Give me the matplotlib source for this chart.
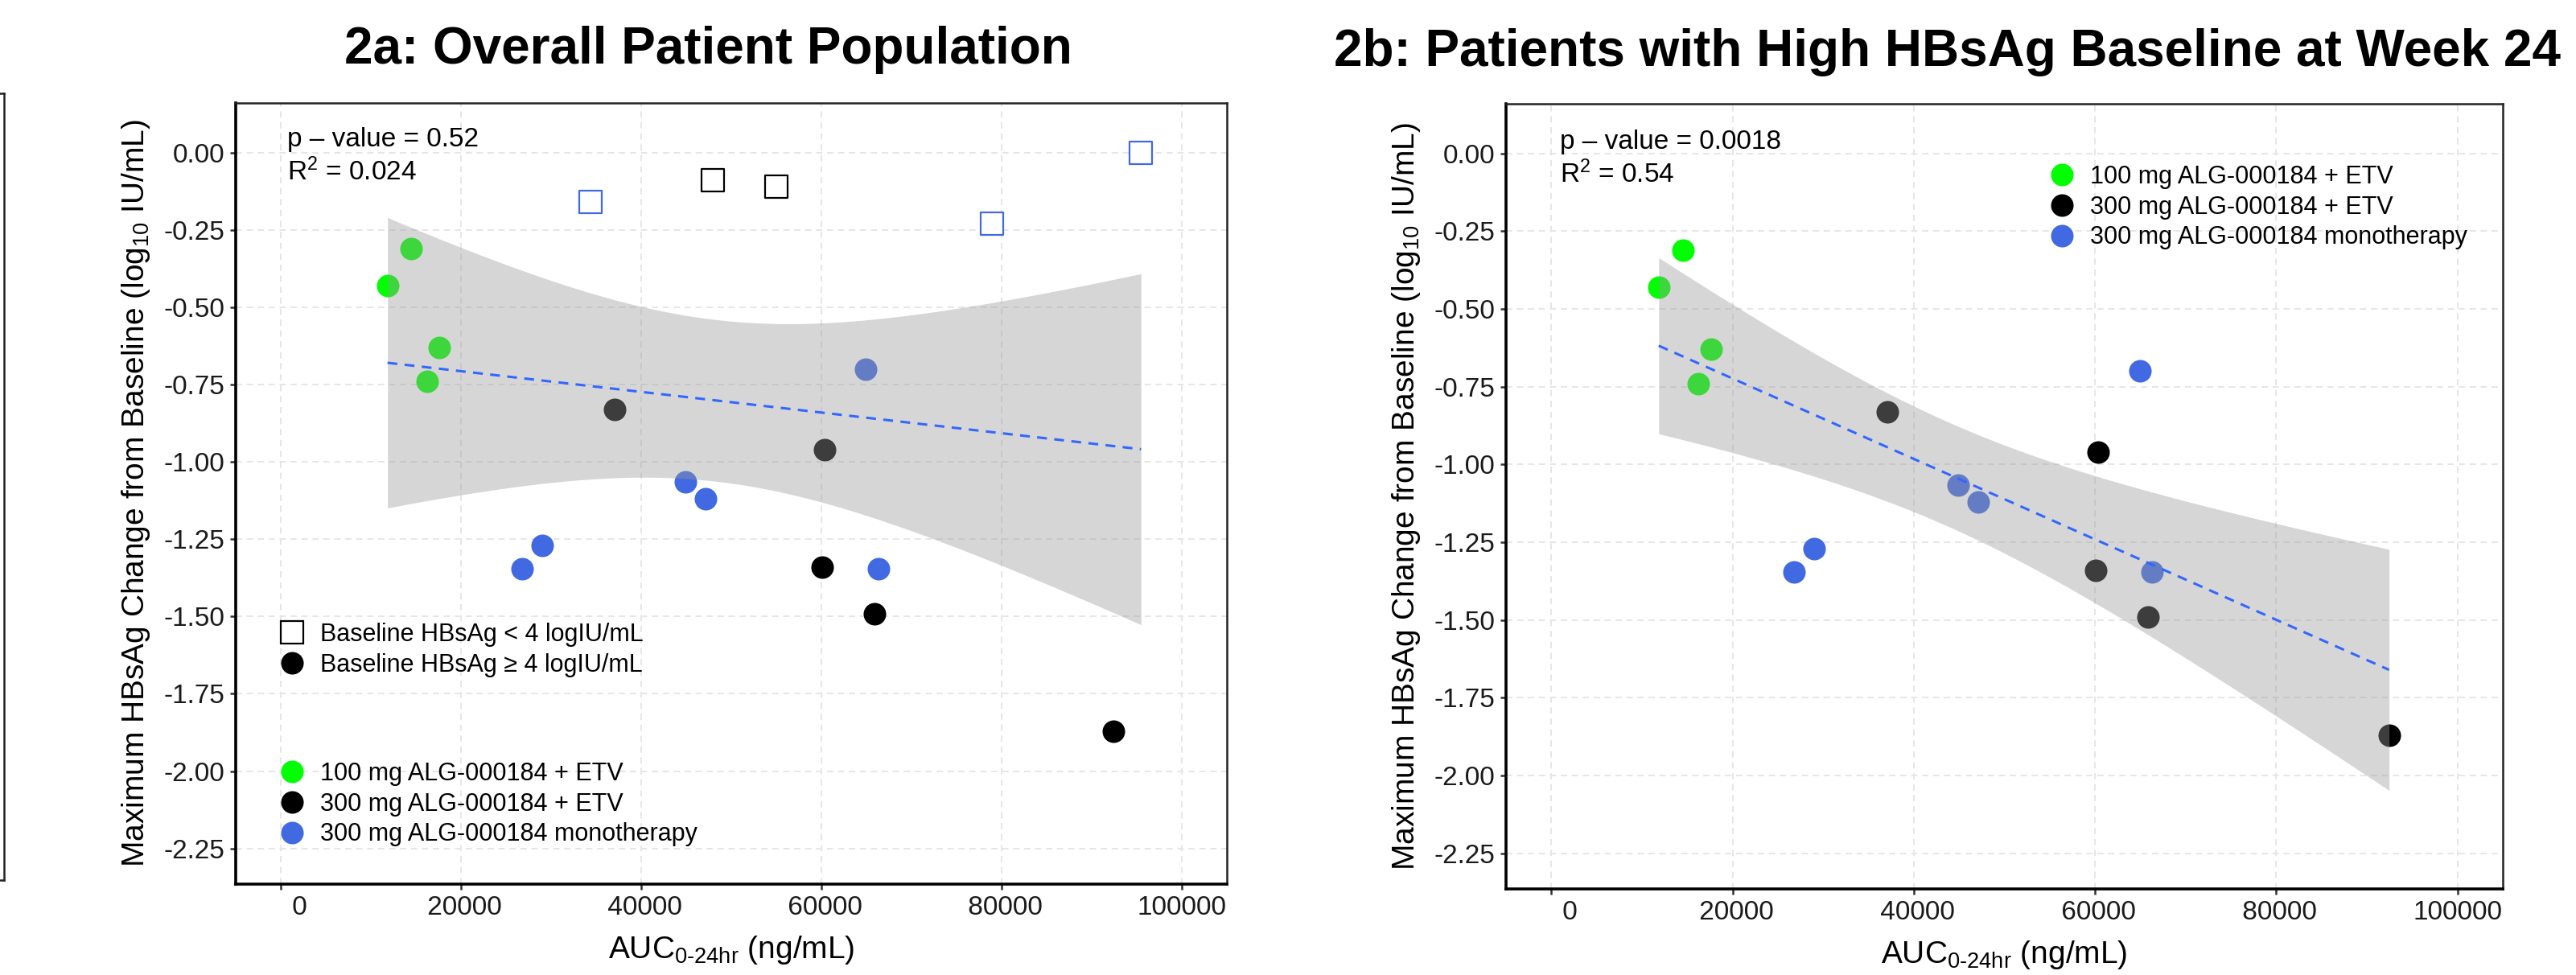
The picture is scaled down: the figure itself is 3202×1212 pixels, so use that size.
import numpy as np
import matplotlib
matplotlib.use("Agg")
import matplotlib.pyplot as plt
from matplotlib.lines import Line2D

plt.rcParams["font.family"] = ["Liberation Sans", "DejaVu Sans"]
plt.rcParams["mathtext.fontset"] = "custom"
plt.rcParams["mathtext.rm"] = "Liberation Sans"
plt.rcParams["mathtext.it"] = "Liberation Sans:italic"
plt.rcParams["mathtext.bf"] = "Liberation Sans:bold"

# --- Data ---
# Baseline HBsAg >= 4 logIU/mL (filled circles), per treatment arm
GREEN_AUC = [11850, 14500, 17600, 16250]
GREEN_CHG = [-0.43, -0.31, -0.63, -0.74]
BLACK_AUC = [37050, 60350, 60100, 65850, 92450]
BLACK_CHG = [-0.83, -0.96, -1.34, -1.49, -1.87]
BLUE_AUC = [64950, 44900, 47150, 29000, 26800, 66330]
BLUE_CHG = [-0.70, -1.065, -1.12, -1.27, -1.345, -1.345]
# Baseline HBsAg < 4 logIU/mL (open squares), only shown in 2a
LOW_BLACK_AUC = [47950, 55000]
LOW_BLACK_CHG = [-0.09, -0.11]
LOW_BLUE_AUC = [34375, 78900, 95470]
LOW_BLUE_CHG = [-0.16, -0.23, 0.00]

ARM_COLORS = ["#00FF00", "#000000", "#4169E1"]
ARM_LABELS = ["100 mg ALG-000184 + ETV", "300 mg ALG-000184 + ETV",
              "300 mg ALG-000184 monotherapy"]
BASE_LABELS = ["Baseline HBsAg < 4 logIU/mL", "Baseline HBsAg \u2265 4 logIU/mL"]
STATS_A = ["p \u2013 value = 0.52", "R$^2$ = 0.024"]
STATS_B = ["p \u2013 value = 0.0018", "R$^2$ = 0.54"]
TITLES = ["2a: Overall Patient Population",
          "2b: Patients with High HBsAg Baseline at Week 24"]
X_TICKS = [0, 20000, 40000, 60000, 80000, 100000]
Y_TICKS = [0.00, -0.25, -0.50, -0.75, -1.00, -1.25, -1.50, -1.75, -2.00, -2.25]
XLABEL = r"AUC$_{\mathregular{0\text{-}24hr}}$ (ng/mL)"
YLABEL = r"Maximum HBsAg Change from Baseline (log$_{10}$ IU/mL)"
T_CRIT = {18: 2.100922, 13: 2.160369}  # 97.5% t quantiles

W, H = 3202, 1212
fig = plt.figure(figsize=(W / 200, H / 200), dpi=200)


def px_rect(left, top, right, bottom):
    return [left / W, 1 - bottom / H, (right - left) / W, (bottom - top) / H]


def lm_band(x, y, n_grid=100):
    x = np.asarray(x, float)
    y = np.asarray(y, float)
    slope, icpt = np.polyfit(x, y, 1)
    grid = np.linspace(x.min(), x.max(), n_grid)
    fit = icpt + slope * grid
    resid = y - (icpt + slope * x)
    n = len(x)
    s = np.sqrt(np.sum(resid ** 2) / (n - 2))
    se = s * np.sqrt(1 / n + (grid - x.mean()) ** 2 / np.sum((x - x.mean()) ** 2))
    t = T_CRIT[n - 2]
    return grid, fit, fit - t * se, fit + t * se


def style_axes(ax):
    ax.set_xlim(-5000, 105000)
    ax.set_ylim(-2.365, 0.16)
    ax.set_xticks(X_TICKS)
    # labels padded to equal width, like R's format()
    ax.set_xticklabels([f"{v:>6d}" for v in X_TICKS])
    ax.set_yticks(Y_TICKS)
    ax.set_yticklabels([f"{v:.2f}" for v in Y_TICKS])
    ax.tick_params(labelsize=12, length=2.5, width=0.9, color="#333333",
                   labelcolor="#1a1a1a", pad=2.5)
    ax.grid(True, color="#e6e6e6", linestyle=(0, (4, 3)), linewidth=0.7)
    ax.set_axisbelow(True)
    for side in ["left", "bottom"]:
        ax.spines[side].set_linewidth(1.3)
        ax.spines[side].set_color("black")
    for side in ["top", "right"]:
        ax.spines[side].set_linewidth(0.9)
        ax.spines[side].set_color("#222222")
    ax.set_xlabel(XLABEL, fontsize=14, labelpad=6)
    ax.set_ylabel(YLABEL, fontsize=14, labelpad=5)


def draw_circles(ax):
    for xs, ys, c in zip([GREEN_AUC, BLACK_AUC, BLUE_AUC],
                         [GREEN_CHG, BLACK_CHG, BLUE_CHG], ARM_COLORS):
        ax.scatter(xs, ys, s=102, color=c, linewidths=0, zorder=2)


def draw_fit(ax, x, y):
    grid, fit, lo, hi = lm_band(x, y)
    ax.fill_between(grid, lo, hi, color="#999999", alpha=0.4, linewidth=0, zorder=3)
    ax.plot(grid, fit, color="#3366FF", linestyle=(0, (4, 3)), linewidth=1.1, zorder=4)


def circle_handle(c):
    return Line2D([], [], marker="o", linestyle="", markersize=10.1,
                  markerfacecolor=c, markeredgewidth=0)


def add_legend(ax, handles, labels, left, top):
    leg = ax.legend(handles, labels, loc="upper left",
                    bbox_to_anchor=(left / W, 1 - top / H),
                    bbox_transform=fig.transFigure, frameon=False, fontsize=11,
                    handlelength=0.8, handletextpad=0.75, labelspacing=0.25,
                    borderpad=0, borderaxespad=0)
    return leg


# --- cut-off neighbouring panel on the far left ---
edge = fig.add_axes(px_rect(-600, 116, 5, 1094))
edge.set_xticks([])
edge.set_yticks([])
for sp in edge.spines.values():
    sp.set_linewidth(0.9)
    sp.set_color("#222222")

# --- 2a ---
ax_a = fig.add_axes(px_rect(293, 128, 1525, 1099))
draw_circles(ax_a)
ax_a.scatter(LOW_BLACK_AUC, LOW_BLACK_CHG, s=108, marker="s", facecolors="white",
             edgecolors="#000000", linewidths=0.8, zorder=2)
ax_a.scatter(LOW_BLUE_AUC, LOW_BLUE_CHG, s=108, marker="s", facecolors="white",
             edgecolors="#4169E1", linewidths=0.8, zorder=2)
all_x = GREEN_AUC + BLACK_AUC + BLUE_AUC + LOW_BLACK_AUC + LOW_BLUE_AUC
all_y = GREEN_CHG + BLACK_CHG + BLUE_CHG + LOW_BLACK_CHG + LOW_BLUE_CHG
draw_fit(ax_a, all_x, all_y)
style_axes(ax_a)

shape_handles = [
    Line2D([], [], marker="s", linestyle="", markersize=10.4,
           markerfacecolor="white", markeredgecolor="black", markeredgewidth=0.8),
    circle_handle("black"),
]
leg1 = add_legend(ax_a, shape_handles, BASE_LABELS, 351, 774)
ax_a.add_artist(leg1)
add_legend(ax_a, [circle_handle(c) for c in ARM_COLORS], ARM_LABELS, 351, 947)

fig.text(357 / W, 1 - 182 / H, STATS_A[0], fontsize=12)
fig.text(357 / W, 1 - 224 / H, STATS_A[1], fontsize=12)

# --- 2b ---
ax_b = fig.add_axes(px_rect(1872, 129, 3111, 1105))
draw_circles(ax_b)
draw_fit(ax_b, GREEN_AUC + BLACK_AUC + BLUE_AUC, GREEN_CHG + BLACK_CHG + BLUE_CHG)
style_axes(ax_b)
add_legend(ax_b, [circle_handle(c) for c in ARM_COLORS], ARM_LABELS, 2551, 205)

fig.text(1939 / W, 1 - 185 / H, STATS_B[0], fontsize=12)
fig.text(1939 / W, 1 - 227 / H, STATS_B[1], fontsize=12)

# --- titles ---
fig.text(880 / W, 1 - 79 / H, TITLES[0], fontsize=23, fontweight="bold",
         ha="center", va="baseline")
fig.text(2420 / W, 1 - 82 / H, TITLES[1], fontsize=23, fontweight="bold",
         ha="center", va="baseline")

fig.savefig("out.png", dpi=200)
